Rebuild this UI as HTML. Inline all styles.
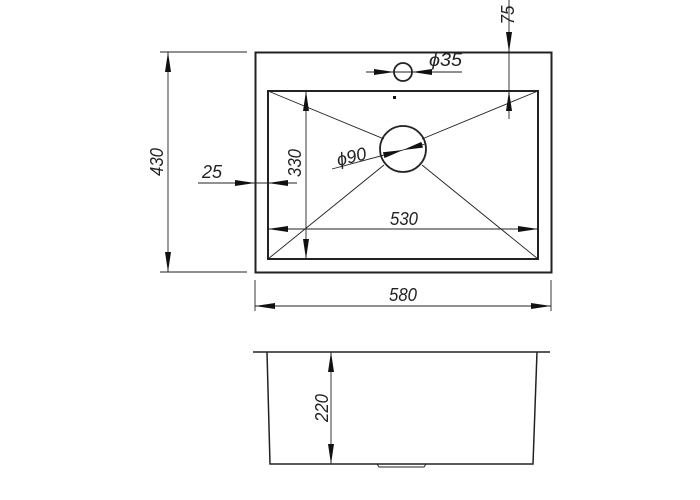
<!DOCTYPE html>
<html><head><meta charset="utf-8"><style>
html,body{margin:0;padding:0;background:#fff;}
svg{display:block}
text{font-family:"Liberation Sans",sans-serif;font-style:italic;font-size:18px;fill:#222;}
</style></head><body>
<svg width="700" height="500" viewBox="0 0 700 500" xmlns="http://www.w3.org/2000/svg">
<defs>
<marker id="a" viewBox="0 0 20 6" refX="20" refY="3" markerWidth="20" markerHeight="6" markerUnits="userSpaceOnUse" orient="auto"><path d="M0,0 L20,3 L0,6 Z" fill="#111"/></marker>
<marker id="b" viewBox="0 0 20 6" refX="0" refY="3" markerWidth="20" markerHeight="6" markerUnits="userSpaceOnUse" orient="auto"><path d="M20,0 L0,3 L20,6 Z" fill="#111"/></marker>
</defs>
<g fill="none" stroke="#222">
<rect x="255.5" y="52.5" width="296" height="220" stroke-width="2"/>
<rect x="268" y="91" width="270" height="168" stroke-width="2"/>
<circle cx="403" cy="72" r="9" stroke-width="1.8"/>
<circle cx="403" cy="149" r="23" stroke-width="1.8"/>
<g stroke-width="0.9">
<line x1="268" y1="91" x2="384" y2="139"/>
<line x1="538" y1="91" x2="422" y2="139"/>
<line x1="268" y1="259" x2="384" y2="165"/>
<line x1="538" y1="259" x2="422" y2="165"/>
<line x1="160" y1="52" x2="247" y2="52"/>
<line x1="160" y1="272" x2="247" y2="272"/>
<line x1="168" y1="52" x2="168" y2="272" marker-start="url(#b)" marker-end="url(#a)"/>
<line x1="306" y1="91" x2="306" y2="259" marker-start="url(#b)" marker-end="url(#a)"/>
<line x1="268" y1="229" x2="538" y2="229" marker-start="url(#b)" marker-end="url(#a)"/>
<line x1="198" y1="183" x2="297" y2="183"/>
<line x1="235" y1="183" x2="255" y2="183" marker-end="url(#a)"/>
<line x1="288" y1="183" x2="268" y2="183" marker-end="url(#a)"/>
<line x1="509" y1="0" x2="509" y2="119"/>
<line x1="509" y1="32" x2="509" y2="52" marker-end="url(#a)"/>
<line x1="509" y1="111" x2="509" y2="91" marker-end="url(#a)"/>
<line x1="366" y1="72" x2="462" y2="72"/>
<line x1="374" y1="72" x2="394" y2="72" marker-end="url(#a)"/>
<line x1="432" y1="72" x2="412" y2="72" marker-end="url(#a)"/>
<line x1="332" y1="169" x2="403" y2="150" marker-end="url(#a)"/>
<line x1="403" y1="150" x2="425" y2="144" marker-start="url(#b)"/>
<line x1="255" y1="280" x2="255" y2="311"/>
<line x1="551" y1="280" x2="551" y2="311"/>
<line x1="255" y1="306" x2="551" y2="306" marker-start="url(#b)" marker-end="url(#a)"/>
<line x1="331" y1="352" x2="331" y2="464" marker-start="url(#b)" marker-end="url(#a)"/>
</g>
<line x1="253" y1="352" x2="550" y2="352" stroke-width="1.5"/>
<polyline points="267,352 270,464 533,464 537,352" stroke-width="1.5"/>
<path d="M377,464 L379,467 L424,467 L426,464" stroke-width="1"/>
</g>
<rect x="393" y="96" width="3" height="3" fill="#111"/>
<text transform="translate(163,162) rotate(-90)" text-anchor="middle" textLength="28" lengthAdjust="spacingAndGlyphs">430</text>
<text transform="translate(301,163) rotate(-90)" text-anchor="middle" textLength="28" lengthAdjust="spacingAndGlyphs">330</text>
<text transform="translate(514,15) rotate(-90)" text-anchor="middle" textLength="19" lengthAdjust="spacingAndGlyphs">75</text>
<text transform="translate(328,408) rotate(-90)" text-anchor="middle" textLength="28" lengthAdjust="spacingAndGlyphs">220</text>
<text x="390" y="225" textLength="28" lengthAdjust="spacingAndGlyphs">530</text>
<text x="389" y="301" textLength="28" lengthAdjust="spacingAndGlyphs">580</text>
<text x="202" y="178" textLength="20" lengthAdjust="spacingAndGlyphs">25</text>
<text x="429" y="66" textLength="33" lengthAdjust="spacingAndGlyphs">ϕ35</text>
<text x="336" y="163" textLength="30" lengthAdjust="spacingAndGlyphs" transform="rotate(-14 350 155)">ϕ90</text>
</svg>
</body></html>
